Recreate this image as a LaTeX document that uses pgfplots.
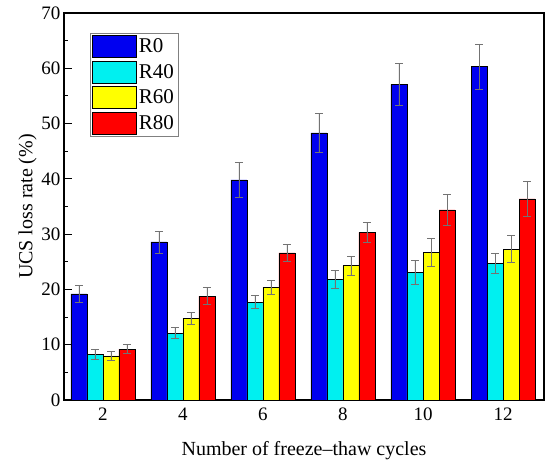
\documentclass[border=0pt]{standalone}
\usepackage{pgfplots}
\pgfplotsset{compat=1.18}
\usepackage{fontspec}
\setmainfont{Liberation Serif}
\definecolor{cR0}{RGB}{0,0,240}
\definecolor{cR40}{RGB}{0,240,240}
\definecolor{cR60}{RGB}{255,255,0}
\definecolor{cR80}{RGB}{255,0,0}
\begin{document}
\begin{tikzpicture}
\begin{axis}[
  name=ax,
  scale only axis,
  width=480pt, height=387pt,
  ybar=0pt, bar width=16pt,
  xmin=1.025, xmax=13.025,
  ymin=0, ymax=70,
  xtick={2,4,6,8,10,12},
  xticklabels={2,4,6,8,10,12},
  ytick={0,10,20,30,40,50,60,70},
  yticklabels={0,10,20,30,40,50,60,70},
  minor ytick={5,15,25,35,45,55,65},
  tick align=inside,
  xtick style={draw=none},
  ytick pos=left,
  major tick length=8pt, minor tick length=4pt,
  every tick/.style={black, line width=0.9pt},
  axis line style={line width=1.4pt},
  tick label style={font=\fontsize{19}{21}\selectfont},
  xticklabel style={yshift=-4pt},
  xlabel={Number of freeze–thaw cycles},
  ylabel={UCS loss rate (\%)},
  label style={font=\fontsize{20}{22}\selectfont},
  xlabel style={yshift=-14pt},
  ylabel style={yshift=-2pt},
  legend style={at={(26/480,1-20/387)}, anchor=north west, draw=gray,
    font=\fontsize{21}{25}\selectfont, row sep=3pt, inner sep=2pt,
    nodes={inner sep=2.2pt}},
  legend cell align=left,
  legend image code/.code={\draw[#1, draw=black, line width=0.5pt] (0pt,-11pt) rectangle (44pt,11pt);},
  error bars/y dir=both, error bars/y explicit,
  error bars/error bar style={gray!90!black, line width=0.6pt},
  error bars/error mark options={rotate=90, gray!90!black, mark size=4pt, line width=0.6pt},
]
\addplot[fill=cR0, draw=black, line width=0.5pt] coordinates {
  (2,19.2) +- (0,1.5) (4,28.6) +- (0,2.0) (6,39.8) +- (0,3.2)
  (8,48.3) +- (0,3.5) (10,57.1) +- (0,3.8) (12,60.3) +- (0,4.1)};
\addplot[fill=cR40, draw=black, line width=0.5pt] coordinates {
  (2,8.3) +- (0,0.85) (4,12.1) +- (0,1.0) (6,17.7) +- (0,1.2)
  (8,21.8) +- (0,1.6) (10,23.1) +- (0,2.1) (12,24.7) +- (0,1.8)};
\addplot[fill=cR60, draw=black, line width=0.5pt] coordinates {
  (2,8.0) +- (0,0.8) (4,14.8) +- (0,1.1) (6,20.4) +- (0,1.2)
  (8,24.3) +- (0,1.7) (10,26.7) +- (0,2.5) (12,27.3) +- (0,2.4)};
\addplot[fill=cR80, draw=black, line width=0.5pt] coordinates {
  (2,9.2) +- (0,0.8) (4,18.8) +- (0,1.5) (6,26.6) +- (0,1.6)
  (8,30.3) +- (0,1.8) (10,34.4) +- (0,2.8) (12,36.4) +- (0,3.2)};
\legend{R0,R40,R60,R80}
\end{axis}
\pgfresetboundingbox
\path[use as bounding box] ([shift={(-64pt,-66pt)}]ax.south west) rectangle ([shift={(6pt,13pt)}]ax.north east);
\end{tikzpicture}
\end{document}
